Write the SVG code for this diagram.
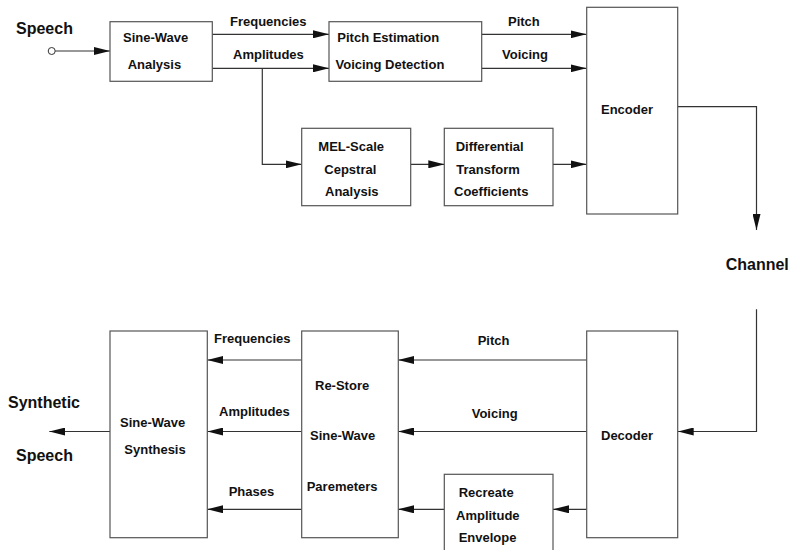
<svg xmlns="http://www.w3.org/2000/svg" width="791" height="550" viewBox="0 0 791 550">
<style>
.box{fill:#fff;stroke:#555;stroke-width:1.2}
.ln{fill:none;stroke:#333;stroke-width:1.2}
text{font-family:"Liberation Sans",Arial,sans-serif;font-weight:bold;fill:#111}
.t{font-size:13px}
.big{font-size:16px}
</style>
<defs>
<marker id="ah" markerUnits="userSpaceOnUse" markerWidth="16" markerHeight="8" refX="16" refY="4" orient="auto">
<path d="M0,0 L16,4 L0,8 z" fill="#111"/>
</marker>
</defs>
<rect width="791" height="550" fill="#fff"/>
<g id="connectors">
<circle cx="51.7" cy="51" r="3.5" fill="#fff" stroke="#333" stroke-width="1"/>
<path class="ln" d="M55.2,51 H110" marker-end="url(#ah)"/>
<path class="ln" d="M212,34.3 H329" marker-end="url(#ah)"/>
<path class="ln" d="M212,68.3 H329" marker-end="url(#ah)"/>
<path class="ln" d="M481.5,34.3 H586.5" marker-end="url(#ah)"/>
<path class="ln" d="M481.5,68.3 H586.5" marker-end="url(#ah)"/>
<path class="ln" d="M262.3,68.3 V164.3 H301.7" marker-end="url(#ah)"/>
<path class="ln" d="M410.5,164.3 H444.3" marker-end="url(#ah)"/>
<path class="ln" d="M553,164.3 H586.5" marker-end="url(#ah)"/>
<path class="ln" d="M677.7,106.7 H756.5 V230" marker-end="url(#ah)"/>
<path class="ln" d="M756.5,309.3 V431.5 H677.7" marker-end="url(#ah)"/>
<path class="ln" d="M586.7,360 H398" marker-end="url(#ah)"/>
<path class="ln" d="M586.7,431.5 H398" marker-end="url(#ah)"/>
<path class="ln" d="M586.7,509.3 H553" marker-end="url(#ah)"/>
<path class="ln" d="M444.3,509.3 H398" marker-end="url(#ah)"/>
<path class="ln" d="M301.7,360 H207.3" marker-end="url(#ah)"/>
<path class="ln" d="M301.7,431.5 H207.3" marker-end="url(#ah)"/>
<path class="ln" d="M301.7,509.3 H207.3" marker-end="url(#ah)"/>
<path class="ln" d="M110,431.5 H49.3" marker-end="url(#ah)"/>
</g>
<g id="labels">
<text class="big" x="16" y="34">Speech</text>
<text class="t" x="230" y="26">Frequencies</text>
<text class="t" x="233" y="59">Amplitudes</text>
<text class="t" x="508" y="26">Pitch</text>
<text class="t" x="502" y="58.5">Voicing</text>
<text class="big" x="725.7" y="269.5">Channel</text>
<text class="t" x="477.7" y="344.5">Pitch</text>
<text class="t" x="471.7" y="417.5">Voicing</text>
<text class="t" x="214" y="343">Frequencies</text>
<text class="t" x="219" y="416">Amplitudes</text>
<text class="t" x="228.7" y="496">Phases</text>
<text class="big" x="8" y="408">Synthetic</text>
<text class="big" x="16" y="460.5">Speech</text>
</g>
<g id="sinewave-analysis">
<rect class="box" x="110" y="21.7" width="102.3" height="59.6"/>
<text class="t" x="123" y="42">Sine-Wave</text>
<text class="t" x="127.7" y="68.5">Analysis</text>
</g>
<g id="pitch-estimation">
<rect class="box" x="329" y="21.7" width="152.7" height="59.6"/>
<text class="t" x="337.3" y="42">Pitch Estimation</text>
<text class="t" x="335.5" y="68.5">Voicing Detection</text>
</g>
<g id="encoder">
<rect class="box" x="586.7" y="7.3" width="91" height="206.7"/>
<text class="t" x="601" y="113.5">Encoder</text>
</g>
<g id="mel-scale">
<rect class="box" x="301.7" y="128.3" width="109" height="77.4"/>
<text class="t" x="318.3" y="151">MEL-Scale</text>
<text class="t" x="324.3" y="173.5">Cepstral</text>
<text class="t" x="325" y="195.5">Analysis</text>
</g>
<g id="differential">
<rect class="box" x="444.3" y="128.3" width="108.7" height="77.4"/>
<text class="t" x="455.7" y="151">Differential</text>
<text class="t" x="456.3" y="173.5">Transform</text>
<text class="t" x="454" y="195.5">Coefficients</text>
</g>
<g id="decoder">
<rect class="box" x="586.7" y="331" width="91" height="206.7"/>
<text class="t" x="601" y="440">Decoder</text>
</g>
<g id="recreate">
<rect class="box" x="444.3" y="474.3" width="108.7" height="90"/>
<text class="t" x="458.7" y="497">Recreate</text>
<text class="t" x="456" y="519.5">Amplitude</text>
<text class="t" x="458.7" y="541.7">Envelope</text>
</g>
<g id="restore">
<rect class="box" x="301.7" y="331" width="96.6" height="206.7"/>
<text class="t" x="315" y="389.5">Re-Store</text>
<text class="t" x="310" y="439.5">Sine-Wave</text>
<text class="t" x="306.7" y="490.5">Paremeters</text>
</g>
<g id="sinewave-synthesis">
<rect class="box" x="110" y="331" width="97.3" height="206.7"/>
<text class="t" x="120" y="427">Sine-Wave</text>
<text class="t" x="124.3" y="453.5">Synthesis</text>
</g>
</svg>
